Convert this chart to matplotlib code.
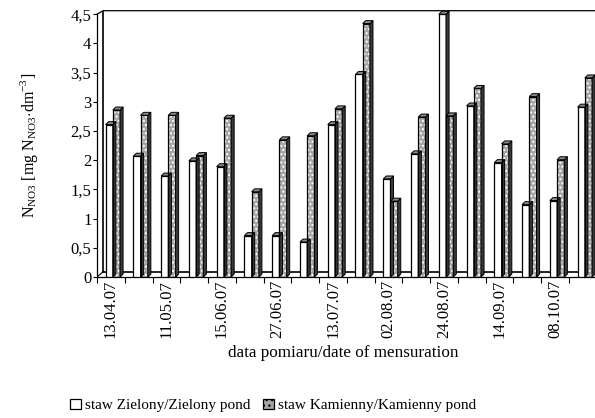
import matplotlib
matplotlib.use('Agg')
import matplotlib.pyplot as plt
from matplotlib.patches import Rectangle, Polygon, Patch
import numpy as np

plt.rcParams['font.family'] = 'Liberation Serif'
plt.rcParams['mathtext.fontset'] = 'custom'
plt.rcParams['mathtext.rm'] = 'Liberation Serif'
plt.rcParams['hatch.linewidth'] = 1.0

# measurement dates (every second one is labelled on the axis)
dates = ['13.04.07', '', '11.05.07', '', '15.06.07', '', '27.06.07', '',
         '13.07.07', '', '02.08.07', '', '24.08.07', '', '14.09.07', '',
         '08.10.07', '']
zielony = [2.61, 2.07, 1.73, 1.99, 1.89, 0.71, 0.71, 0.60, 2.61, 3.47,
           1.68, 2.11, 4.50, 2.93, 1.96, 1.24, 1.31, 2.91]
kamienny = [2.86, 2.77, 2.77, 2.08, 2.72, 1.46, 2.35, 2.42, 2.88, 4.34,
            1.30, 2.74, 2.76, 3.23, 2.28, 3.09, 2.01, 3.41]
series_names = ['staw Zielony/Zielony pond', 'staw Kamienny/Kamienny pond']

fig = plt.figure(figsize=(5.95, 4.18), dpi=100)
ax = fig.add_axes([0.163, 0.3373, 0.840, 0.6371])

x = np.arange(len(dates))
w = 0.26
dx, dy = 0.11, 0.05  # fake 3d depth (data units)
dot_grey = '#a6a6a6'


def bar3d(ax, x0, h, dotted):
    # front face
    if dotted:
        ax.add_patch(Rectangle((x0, 0), w, h, facecolor=dot_grey, edgecolor='white',
                               hatch='....', linewidth=0, zorder=3))
    ax.add_patch(Rectangle((x0, 0), w, h, facecolor='none' if dotted else 'white',
                           edgecolor='black', linewidth=0.9, zorder=4))
    # right side
    ax.add_patch(Polygon([(x0 + w, 0), (x0 + w + dx, dy), (x0 + w + dx, h + dy), (x0 + w, h)],
                         closed=True, facecolor='#3a3a3a', edgecolor='black', linewidth=0.7, zorder=4))
    # top
    ax.add_patch(Polygon([(x0, h), (x0 + dx, h + dy), (x0 + w + dx, h + dy), (x0 + w, h)],
                         closed=True, facecolor='#8a8a8a', edgecolor='black', linewidth=0.7, zorder=4))


# floor, back wall and top edge of the 3d box
ax.plot([-0.28, 17.6], [0.09, 0.09], color='black', linewidth=1.2, zorder=2)
ax.plot([-0.28, -0.28], [0.09, 4.56], color='black', linewidth=1.2, zorder=2)
ax.plot([-0.5, -0.28], [0.0, 0.09], color='black', linewidth=0.8, zorder=2)
ax.plot([-0.5, -0.28, 17.6], [4.5, 4.56, 4.56], color='black', linewidth=0.9,
        zorder=2, clip_on=False)

for i in range(len(dates)):
    bar3d(ax, x[i] - 0.19, zielony[i], False)
    bar3d(ax, x[i] + 0.07, kamienny[i], True)

ax.set_xlim(-0.5, 17.5)
ax.set_ylim(0, 4.56)
ax.set_yticks(np.arange(0, 4.51, 0.5))
ax.set_yticklabels(['0', '0,5', '1', '1,5', '2', '2,5', '3', '3,5', '4', '4,5'], fontsize=12)
ax.set_xticks(x[::2])
ax.set_xticklabels(dates[::2], rotation=90, fontsize=12)
ax.set_xticks(np.arange(-0.5, 17.6, 1), minor=True)
ax.tick_params(axis='x', which='major', length=0, pad=2)
ax.tick_params(axis='x', which='minor', length=4, direction='out', width=0.8)
ax.tick_params(axis='y', length=3, direction='out', width=0.8, pad=1)
ax.spines['right'].set_visible(False)
ax.spines['top'].set_visible(False)
ax.spines['left'].set_bounds(0, 4.5)
for s in ['left', 'bottom']:
    ax.spines[s].set_linewidth(0.9)

fig.text(0.577, 0.155, 'data pomiaru/date of mensuration', ha='center', va='center', fontsize=12.3)
fig.text(0.048, 0.652, r'N$_{\mathrm{NO3}}$ [mg N$_{\mathrm{NO3}}$$\cdot$dm$^{-3}$]',
         rotation=90, ha='center', va='center', fontsize=11.5)

handles = [Patch(facecolor='white', edgecolor='black', linewidth=0.9),
           Patch(facecolor=dot_grey, edgecolor='black', hatch='...', linewidth=0.9)]
fig.legend(handles, series_names, loc='center', bbox_to_anchor=(0.459, 0.03), ncol=2,
           frameon=False, fontsize=11, handlelength=0.7, handleheight=0.7,
           handletextpad=0.3, columnspacing=0.8)

fig.savefig('out.png', dpi=100)
